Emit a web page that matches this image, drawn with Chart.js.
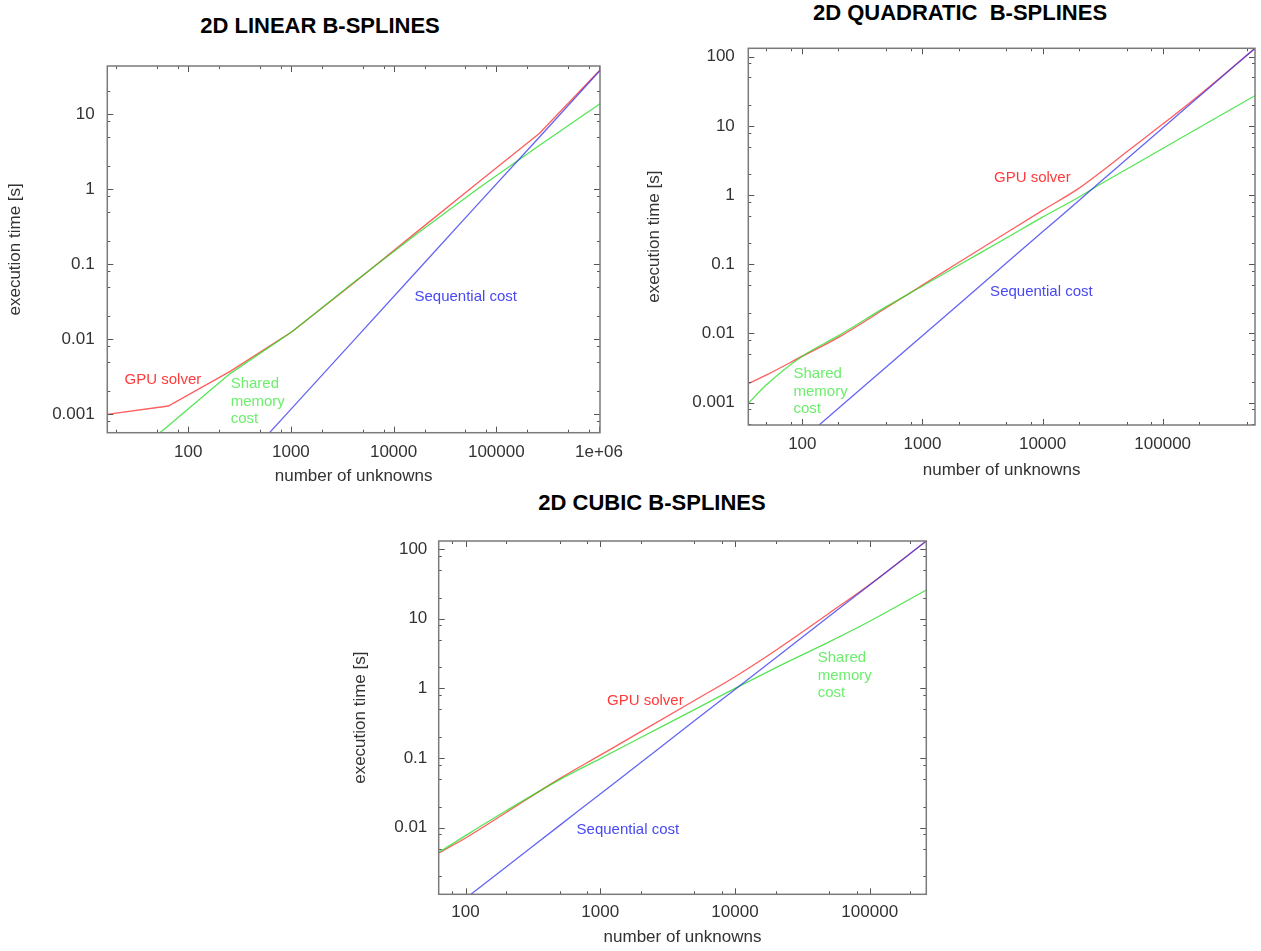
<!DOCTYPE html>
<html lang="en">
<head>
<meta charset="UTF-8">
<title>2D B-splines: execution time vs number of unknowns</title>
<script src="https://cdn.jsdelivr.net/npm/chart.js@4"></script>
<style>
  * { margin: 0; padding: 0; box-sizing: border-box; }
  body { width: 1261px; height: 951px; background: #fff; position: relative; overflow: hidden; font-family: 'Liberation Sans', Arial, sans-serif; }
  .title { position: absolute; width: 400px; text-align: center; font-size: 22px; line-height: 22px; font-weight: bold; color: #000; white-space: pre; }
  canvas { position: absolute; }
</style>
</head>
<body>
<div class="title" style="left:120px; top:15px">2D LINEAR B-SPLINES</div>
<div class="title" style="left:760px; top:2px">2D QUADRATIC  B-SPLINES</div>
<div class="title" style="left:452px; top:492px">2D CUBIC B-SPLINES</div>

<canvas id="linear" width="640" height="450" style="left:0; top:40px"></canvas>
<canvas id="quadratic" width="641" height="490" style="left:620px; top:0"></canvas>
<canvas id="cubic" width="600" height="471" style="left:340px; top:480px"></canvas>

<script>
// ---- linear B-splines ----
const linN      = [16, 64, 256, 1024, 4096, 16384, 65536, 262144, 1048576];
const linGpu    = [0.00099, 0.00128, 0.0037, 0.0125, 0.056, 0.26, 1.2, 5.5, 40];
const linShared = [0.000141, 0.0007, 0.00346, 0.0125, 0.057, 0.245, 1.0, 3.8, 14];
const linSeq    = [0.0000024, 0.000019, 0.00015, 0.0012, 0.0096, 0.077, 0.62, 4.9, 39.4];
const linXTicks  = [100, 1000, 10000, 100000, 1000000];
const linXLabels = ['100', '1000', '10000', '100000', '1e+06'];
const linYTicks  = [0.001, 0.01, 0.1, 1, 10];
const linYLabels = ['0.001', '0.01', '0.1', '1', '10'];

// ---- quadratic B-splines ----
const quadN      = [36, 50, 100, 200, 500, 1000, 2000, 5000, 10000, 20000, 30000, 50000, 100000, 200000, 590000];
const quadGpu    = [0.0019, 0.0025, 0.0047, 0.0088, 0.0235, 0.05, 0.106, 0.285, 0.6, 1.25, 2.1, 4.2, 10.6, 27.5, 133];
const quadShared = [0.001, 0.0018, 0.0047, 0.0093, 0.0244, 0.0485, 0.0967, 0.24, 0.48, 0.93, 1.42, 2.36, 4.7, 9.4, 27.5];
const quadSeq    = [0.0000635, 0.000104, 0.000294, 0.00083, 0.00329, 0.0093, 0.0263, 0.104, 0.294, 0.83, 1.53, 3.29, 9.3, 26.3, 133];
const quadXTicks  = [100, 1000, 10000, 100000];
const quadXLabels = ['100', '1000', '10000', '100000'];
const quadYTicks  = [0.001, 0.01, 0.1, 1, 10, 100];
const quadYLabels = ['0.001', '0.01', '0.1', '1', '10', '100'];

// ---- cubic B-splines ----
const cubN      = [63, 100, 200, 500, 1000, 2000, 5000, 10000, 20000, 50000, 100000, 263000];
const cubGpu    = [0.0043, 0.0071, 0.0165, 0.0507, 0.11, 0.239, 0.67, 1.47, 3.5, 12, 31, 130];
const cubShared = [0.0044, 0.0077, 0.0175, 0.049, 0.098, 0.197, 0.494, 1.0, 1.97, 4.65, 9.2, 25.8];
const cubSeq    = [0.000483, 0.000966, 0.00273, 0.0108, 0.0305, 0.0864, 0.342, 0.966, 2.73, 10.8, 30.5, 130];
const cubXTicks  = [100, 1000, 10000, 100000];
const cubXLabels = ['100', '1000', '10000', '100000'];
const cubYTicks  = [0.01, 0.1, 1, 10, 100];
const cubYLabels = ['0.01', '0.1', '1', '10', '100'];

const RED = 'rgba(255,40,40,0.75)';
const GREEN = 'rgba(30,220,30,0.75)';
const BLUE = 'rgba(50,50,240,0.75)';
const FONT = "'Liberation Sans', Arial, sans-serif";

// gnuplot-like frame: border, inward ticks on all four sides, text labels
function framePlugin(notes) {
  return {
    id: 'frame',
    afterDatasetsDraw(chart) {
      const { ctx, chartArea: a, scales: { x, y } } = chart;
      ctx.save();
      ctx.strokeStyle = '#555';
      ctx.lineWidth = 1;
      ctx.beginPath();
      [[x, true], [y, false]].forEach(([s, horiz]) => {
        const lo = Math.floor(Math.log10(s.min)), hi = Math.ceil(Math.log10(s.max));
        for (let k = lo; k <= hi; k++) {
          [1, 2, 5, 8].forEach(m => {
            const v = m * Math.pow(10, k);
            if (v < s.min || v > s.max) return;
            const len = m === 1 ? 6 : 3;
            const p = Math.round(s.getPixelForValue(v)) + 0.5;
            if (horiz) {
              ctx.moveTo(p, a.bottom); ctx.lineTo(p, a.bottom - len);
              ctx.moveTo(p, a.top); ctx.lineTo(p, a.top + len);
            } else {
              ctx.moveTo(a.left, p); ctx.lineTo(a.left + len, p);
              ctx.moveTo(a.right, p); ctx.lineTo(a.right - len, p);
            }
          });
        }
      });
      ctx.stroke();
      ctx.strokeStyle = '#7a7a7a';
      ctx.lineWidth = 1.5;
      ctx.strokeRect(a.left, a.top, a.right - a.left, a.bottom - a.top);

      ctx.font = '15px ' + FONT;
      ctx.textAlign = 'left';
      ctx.textBaseline = 'middle';
      notes.forEach(n => {
        ctx.fillStyle = n.color;
        const px = x.getPixelForValue(n.x), py = y.getPixelForValue(n.y);
        n.lines.forEach((t, i) => ctx.fillText(t, px, py + i * 17.4));
      });
      ctx.restore();
    }
  };
}

function buildChart(id, o) {
  // linear chart is plotted point to point (sharp corners), the others smoothed
  const line = (xs, ys, color) => ({
    data: xs.map((v, i) => ({ x: v, y: ys[i] })),
    borderColor: color,
    borderWidth: 1.3,
    pointRadius: 0,
    tension: 0,
    cubicInterpolationMode: o.smooth ? 'monotone' : 'default',
    fill: false
  });
  return new Chart(document.getElementById(id), {
    type: 'line',
    data: {
      // dataset 0 is painted last: blue on top, as in gnuplot order
      datasets: [line(o.n, o.seq, BLUE), line(o.n, o.shared, GREEN), line(o.n, o.gpu, RED)]
    },
    options: {
      responsive: false,
      animation: false,
      events: [],
      layout: { padding: { left: 0, right: o.padRight, top: o.padTop, bottom: 0 } },
      plugins: { legend: { display: false }, tooltip: { enabled: false } },
      scales: {
        x: {
          type: 'logarithmic',
          min: o.xMin, max: o.xMax,
          grid: { display: false, drawTicks: false },
          border: { display: false },
          afterBuildTicks: s => { s.ticks = o.xTicks.map(v => ({ value: v })); },
          afterFit: s => { s.height = o.xAxisH; s.paddingLeft = 0; s.paddingRight = 0; },
          ticks: {
            autoSkip: false, maxRotation: 0, minRotation: 0,
            padding: o.xTickPad, color: '#333',
            font: { family: FONT, size: 17 },
            callback: (v, i) => o.xLabels[i]
          },
          title: {
            display: true, text: 'number of unknowns', color: '#333',
            font: { family: FONT, size: 17 },
            padding: { top: 0, bottom: o.xTitlePad }
          }
        },
        y: {
          type: 'logarithmic',
          min: o.yMin, max: o.yMax,
          grid: { display: false, drawTicks: false },
          border: { display: false },
          afterBuildTicks: s => { s.ticks = o.yTicks.map(v => ({ value: v })); },
          afterFit: s => { s.width = o.yAxisW; s.paddingTop = 0; s.paddingBottom = 0; },
          ticks: {
            autoSkip: false,
            padding: o.yTickPad, color: '#333',
            font: { family: FONT, size: 17 },
            callback: (v, i) => o.yLabels[i]
          },
          title: {
            display: true, text: 'execution time [s]', color: '#333',
            font: { family: FONT, size: 17 },
            padding: { top: o.yTitlePad, bottom: 0 }
          }
        }
      }
    },
    plugins: [framePlugin(o.notes)]
  });
}

buildChart('linear', {
  n: linN, gpu: linGpu, shared: linShared, seq: linSeq, smooth: false,
  xMin: 16.3, xMax: 1023000, yMin: 0.000564, yMax: 43.6,
  xTicks: linXTicks, xLabels: linXLabels, yTicks: linYTicks, yLabels: linYLabels,
  padRight: 40, padTop: 26, yAxisW: 107.3, xAxisH: 57.3,
  xTickPad: 9.5, yTickPad: 12.6, xTitlePad: 3, yTitlePad: 5.6,
  notes: [
    { lines: ['GPU solver'], x: 24, y: 0.00284, color: '#ff3a3a' },
    { lines: ['Shared', 'memory', 'cost'], x: 259, y: 0.00251, color: '#6cee6c' },
    { lines: ['Sequential cost'], x: 15960, y: 0.036, color: '#4848f4' }
  ]
});

buildChart('quadratic', {
  n: quadN, gpu: quadGpu, shared: quadShared, seq: quadSeq, smooth: true,
  xMin: 35.5, xMax: 587000, yMin: 0.000476, yMax: 132,
  xTicks: quadXTicks, xLabels: quadXLabels, yTicks: quadYTicks, yLabels: quadYLabels,
  padRight: 6, padTop: 48.3, yAxisW: 128.3, xAxisH: 65,
  xTickPad: 9, yTickPad: 13.5, xTitlePad: 9, yTitlePad: 24.6,
  notes: [
    { lines: ['GPU solver'], x: 3940, y: 1.75, color: '#ff3a3a' },
    { lines: ['Shared', 'memory', 'cost'], x: 84.4, y: 0.00257, color: '#6cee6c' },
    { lines: ['Sequential cost'], x: 3660, y: 0.0402, color: '#4848f4' }
  ]
});

buildChart('cubic', {
  n: cubN, gpu: cubGpu, shared: cubShared, seq: cubSeq, smooth: true,
  xMin: 63.2, xMax: 263000, yMin: 0.001107, yMax: 130.3,
  xTicks: cubXTicks, xLabels: cubXLabels, yTicks: cubYTicks, yLabels: cubYLabels,
  padRight: 13.7, padTop: 61, yAxisW: 98.7, xAxisH: 56.7,
  xTickPad: 8, yTickPad: 11.4, xTitlePad: 3.3, yTitlePad: 10.3,
  notes: [
    { lines: ['GPU solver'], x: 1122, y: 0.659, color: '#ff3a3a' },
    { lines: ['Shared', 'memory', 'cost'], x: 41100, y: 2.7, color: '#6cee6c' },
    { lines: ['Sequential cost'], x: 667, y: 0.0093, color: '#4848f4' }
  ]
});
</script>
</body>
</html>
